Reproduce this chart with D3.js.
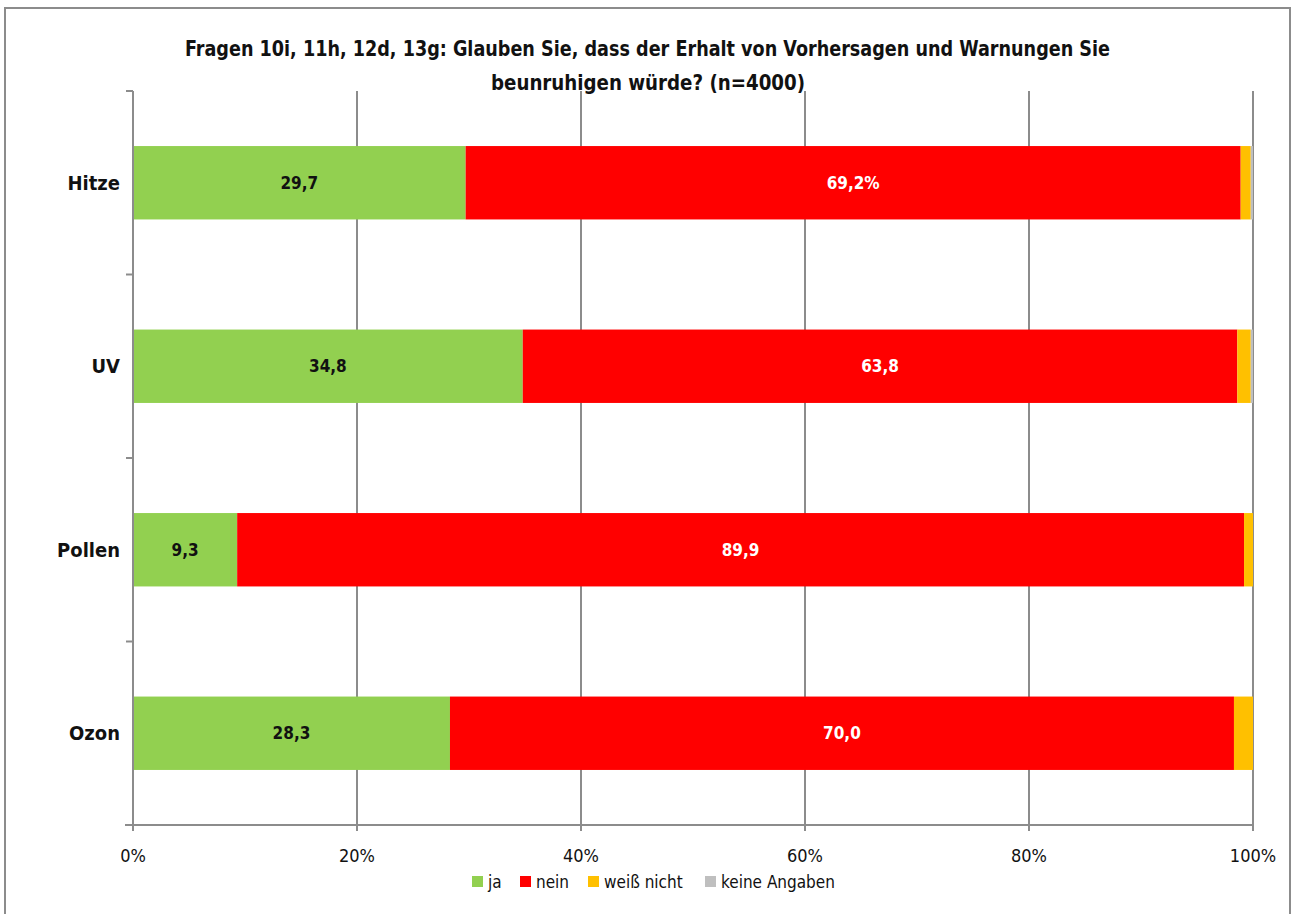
<!DOCTYPE html>
<html lang="de">
<head>
<meta charset="UTF-8">
<title>Fragen 10i, 11h, 12d, 13g</title>
<script src="https://d3js.org/d3.v7.min.js"></script>
<style>
  body { margin: 0; background: #fff; }
  svg { display: block; }
  text { font-family: "DejaVu Sans", sans-serif; font-stretch: condensed; }
</style>
</head>
<body>
<div id="chart"></div>
<script>
// ====== DATA ======
var categories = ["Hitze", "UV", "Pollen", "Ozon"];
var seriesNames = ["ja", "nein", "weiß nicht", "keine Angaben"];
var jaValues = [29.7, 34.8, 9.3, 28.3];
var neinValues = [69.2, 63.8, 89.9, 70.0];
var weissNichtValues = [0.9, 1.2, 0.8, 1.7];
var keineAngabenValues = [0.2, 0.2, 0.0, 0.0];
var jaLabels = ["29,7", "34,8", "9,3", "28,3"];
var neinLabels = ["69,2%", "63,8", "89,9", "70,0"];
var xTicks = [0, 20, 40, 60, 80, 100];
var colors = ["#92D050", "#FF0000", "#FFC000", "#BFBFBF"];

var W = 1293, H = 914;
var margin = {top: 91, left: 133, right: 1293 - 1253, bottom: 914 - 825};
var width = W - margin.left - margin.right,
    height = H - margin.top - margin.bottom;

var svg = d3.select("#chart").append("svg")
  .attr("width", W).attr("height", H);

// outer frame
svg.append("rect")
  .attr("x", 5).attr("y", 8)
  .attr("width", 1285).attr("height", 920)
  .attr("fill", "none").attr("stroke", "#8c8c8c").attr("stroke-width", 2);

// title (squeezed to match the narrow original face)
var title = svg.append("g")
  .style("font-weight", "bold").style("font-size", "21px").attr("fill", "#111");
title.append("text").attr("x", 185).attr("y", 56)
  .attr("textLength", 925).attr("lengthAdjust", "spacingAndGlyphs")
  .text("Fragen 10i, 11h, 12d, 13g: Glauben Sie, dass der Erhalt von Vorhersagen und Warnungen Sie");
title.append("text").attr("x", 491).attr("y", 90)
  .attr("textLength", 314).attr("lengthAdjust", "spacingAndGlyphs")
  .text("beunruhigen würde? (n=4000)");

var g = svg.append("g").attr("transform", "translate(" + margin.left + "," + margin.top + ")");

var x = d3.scaleLinear().domain([0, 100]).range([0, width]);
var y = d3.scaleBand().domain(categories).range([0, height]).paddingInner(0.6).paddingOuter(0.3);

// stacked data
var rows = categories.map(function(c, i) {
  return {cat: c, ja: jaValues[i], nein: neinValues[i], wn: weissNichtValues[i], ka: keineAngabenValues[i]};
});
var stack = d3.stack().keys(["ja", "nein", "wn", "ka"]);
var layers = stack(rows);

// gridlines
g.selectAll(".grid").data(xTicks.slice(1)).enter().append("line")
  .attr("x1", function(d) { return x(d); }).attr("x2", function(d) { return x(d); })
  .attr("y1", 0).attr("y2", height)
  .attr("stroke", "#8c8c8c").attr("stroke-width", 2);

// bars
g.selectAll(".layer").data(layers).enter().append("g")
  .attr("fill", function(d, i) { return colors[i]; })
  .selectAll("rect").data(function(d) { return d; }).enter().append("rect")
  .attr("x", function(d) { return x(d[0]); })
  .attr("y", function(d) { return y(d.data.cat); })
  .attr("width", function(d) { return x(d[1]) - x(d[0]); })
  .attr("height", y.bandwidth());

// labels
g.selectAll(".lblJa").data(layers[0]).enter().append("text")
  .attr("x", function(d) { return (x(d[0]) + x(d[1])) / 2; })
  .attr("y", function(d) { return y(d.data.cat) + y.bandwidth() / 2 + 6; })
  .attr("text-anchor", "middle")
  .style("font-weight", "bold").style("font-size", "17px")
  .attr("fill", "#111")
  .text(function(d, i) { return jaLabels[i]; });
g.selectAll(".lblNein").data(layers[1]).enter().append("text")
  .attr("x", function(d) { return (x(d[0]) + x(d[1])) / 2; })
  .attr("y", function(d) { return y(d.data.cat) + y.bandwidth() / 2 + 6; })
  .attr("text-anchor", "middle")
  .style("font-weight", "bold").style("font-size", "17px")
  .attr("fill", "#fff")
  .text(function(d, i) { return neinLabels[i]; });

// y axis
var yAxis = g.append("g");
yAxis.append("line").attr("x1", 0).attr("x2", 0).attr("y1", 0).attr("y2", height)
  .attr("stroke", "#8c8c8c").attr("stroke-width", 2);
var seps = [0].concat(categories.map(function(c) { return y(c) + y.bandwidth() + y.step() * y.paddingInner() / 2; }));
yAxis.selectAll(".tk").data(seps.slice(0, 4)).enter().append("line")
  .attr("x1", -7).attr("x2", 0)
  .attr("y1", function(d) { return d; }).attr("y2", function(d) { return d; })
  .attr("stroke", "#8c8c8c").attr("stroke-width", 2);
yAxis.selectAll(".cat").data(categories).enter().append("text")
  .attr("x", -13)
  .attr("y", function(d) { return y(d) + y.bandwidth() / 2 + 7; })
  .attr("text-anchor", "end")
  .style("font-weight", "bold").style("font-size", "20px")
  .attr("fill", "#111")
  .text(function(d) { return d; });

// x axis
var xAxis = g.append("g").attr("transform", "translate(0," + height + ")");
xAxis.append("line").attr("x1", -8).attr("x2", width).attr("y1", 0).attr("y2", 0)
  .attr("stroke", "#8c8c8c").attr("stroke-width", 2);
xAxis.selectAll(".tk").data(xTicks).enter().append("line")
  .attr("x1", function(d) { return x(d); }).attr("x2", function(d) { return x(d); })
  .attr("y1", 0).attr("y2", 6)
  .attr("stroke", "#8c8c8c").attr("stroke-width", 2);
xAxis.selectAll(".tl").data(xTicks).enter().append("text")
  .attr("x", function(d) { return x(d); })
  .attr("y", 37)
  .attr("text-anchor", "middle")
  .style("font-size", "18px")
  .attr("fill", "#111")
  .text(function(d) { return d + "%"; });

// legend
var legendX = [472, 520, 588, 705];
var legend = svg.append("g");
var items = legend.selectAll(".li").data(seriesNames).enter().append("g")
  .attr("transform", function(d, i) { return "translate(" + legendX[i] + ",882)"; });
items.append("rect").attr("x", 0).attr("y", -6).attr("width", 11).attr("height", 11)
  .attr("fill", function(d, i) { return colors[i]; });
items.append("text").attr("x", 16).attr("y", 6)
  .style("font-size", "17px")
  .attr("fill", "#111")
  .text(function(d) { return d; });
</script>
</body>
</html>
